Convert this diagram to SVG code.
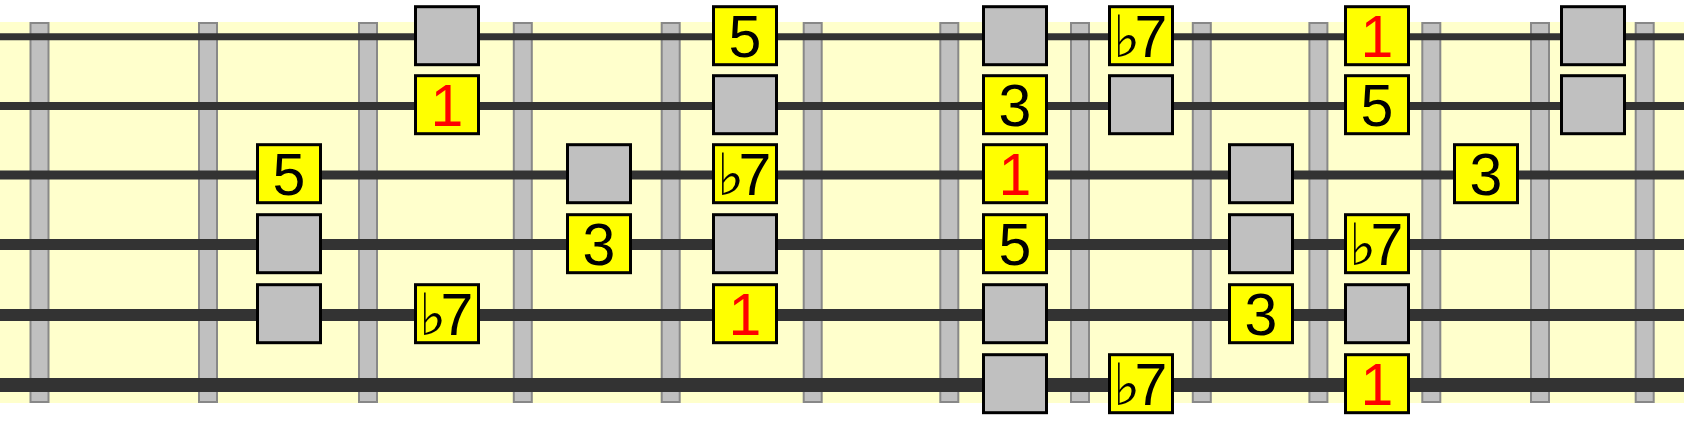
<svg xmlns="http://www.w3.org/2000/svg" width="1684" height="422" viewBox="0 0 1684 422">
<style>
.bg{fill:#ffffcc}
.fret{fill:#c0c0c0;stroke:#888888;stroke-width:2}
.str{stroke:#333333}
.g{fill:#c0c0c0;stroke:#000000;stroke-width:3}
.y{fill:#ffff00;stroke:#000000;stroke-width:3}
.t{font-family:"Liberation Sans",Arial,sans-serif;font-size:59px;fill:#000000;text-anchor:middle}
.s{text-anchor:start}
.r{fill:#ff0000}
.fl{font-family:"DejaVu Sans",sans-serif;font-size:58px}
</style>
<rect class="bg" x="0" y="22" width="1684" height="381"/>
<g id="frets">
<rect class="fret" x="30.5" y="23" width="18" height="379"/>
<rect class="fret" x="199" y="23" width="18" height="379"/>
<rect class="fret" x="359" y="23" width="18" height="379"/>
<rect class="fret" x="513.8" y="23" width="18" height="379"/>
<rect class="fret" x="661.7" y="23" width="18" height="379"/>
<rect class="fret" x="803.7" y="23" width="18" height="379"/>
<rect class="fret" x="940.3" y="23" width="18" height="379"/>
<rect class="fret" x="1071" y="23" width="18" height="379"/>
<rect class="fret" x="1192.8" y="23" width="18" height="379"/>
<rect class="fret" x="1309.4" y="23" width="18" height="379"/>
<rect class="fret" x="1422.3" y="23" width="18" height="379"/>
<rect class="fret" x="1531" y="23" width="18" height="379"/>
<rect class="fret" x="1635.7" y="23" width="18" height="379"/>
</g>
<g id="strings">
<line class="str" x1="0" y1="36.7" x2="1684" y2="36.7" stroke-width="7"/>
<line class="str" x1="0" y1="106" x2="1684" y2="106" stroke-width="8"/>
<line class="str" x1="0" y1="175" x2="1684" y2="175" stroke-width="9"/>
<line class="str" x1="0" y1="244.5" x2="1684" y2="244.5" stroke-width="11"/>
<line class="str" x1="0" y1="315" x2="1684" y2="315" stroke-width="12"/>
<line class="str" x1="0" y1="385" x2="1684" y2="385" stroke-width="14"/>
</g>
<!-- row 1 -->
<g id="n1B"><rect class="g" x="415.5" y="6.7" width="63" height="58"/></g>
<g id="n1D"><rect class="y" x="713.5" y="6.7" width="63" height="58"/><text class="t" x="745" y="56.7">5</text></g>
<g id="n1E"><rect class="g" x="983.5" y="6.7" width="63" height="58"/></g>
<g id="n1F"><rect class="y" x="1109.5" y="6.7" width="63" height="58"/><text class="t s" y="56.7"><tspan class="fl" x="1113">♭</tspan><tspan x="1134.5">7</tspan></text></g>
<g id="n1H"><rect class="y" x="1345.5" y="6.7" width="63" height="58"/><text class="t r" x="1377" y="56.7">1</text></g>
<g id="n1J"><rect class="g" x="1561.5" y="6.7" width="63" height="58"/></g>
<!-- row 2 -->
<g id="n2B"><rect class="y" x="415.5" y="75.7" width="63" height="58"/><text class="t r" x="447" y="125.7">1</text></g>
<g id="n2D"><rect class="g" x="713.5" y="75.7" width="63" height="58"/></g>
<g id="n2E"><rect class="y" x="983.5" y="75.7" width="63" height="58"/><text class="t" x="1015" y="125.7">3</text></g>
<g id="n2F"><rect class="g" x="1109.5" y="75.7" width="63" height="58"/></g>
<g id="n2H"><rect class="y" x="1345.5" y="75.7" width="63" height="58"/><text class="t" x="1377" y="125.7">5</text></g>
<g id="n2J"><rect class="g" x="1561.5" y="75.7" width="63" height="58"/></g>
<!-- row 3 -->
<g id="n3A"><rect class="y" x="257.5" y="144.7" width="63" height="58"/><text class="t" x="289" y="194.7">5</text></g>
<g id="n3C"><rect class="g" x="567.5" y="144.7" width="63" height="58"/></g>
<g id="n3D"><rect class="y" x="713.5" y="144.7" width="63" height="58"/><text class="t s" y="194.7"><tspan class="fl" x="717">♭</tspan><tspan x="738.5">7</tspan></text></g>
<g id="n3E"><rect class="y" x="983.5" y="144.7" width="63" height="58"/><text class="t r" x="1015" y="194.7">1</text></g>
<g id="n3G"><rect class="g" x="1229.5" y="144.7" width="63" height="58"/></g>
<g id="n3I"><rect class="y" x="1454.5" y="144.7" width="63" height="58"/><text class="t" x="1486" y="194.7">3</text></g>
<!-- row 4 -->
<g id="n4A"><rect class="g" x="257.5" y="214.7" width="63" height="58"/></g>
<g id="n4C"><rect class="y" x="567.5" y="214.7" width="63" height="58"/><text class="t" x="599" y="264.7">3</text></g>
<g id="n4D"><rect class="g" x="713.5" y="214.7" width="63" height="58"/></g>
<g id="n4E"><rect class="y" x="983.5" y="214.7" width="63" height="58"/><text class="t" x="1015" y="264.7">5</text></g>
<g id="n4G"><rect class="g" x="1229.5" y="214.7" width="63" height="58"/></g>
<g id="n4H"><rect class="y" x="1345.5" y="214.7" width="63" height="58"/><text class="t s" y="264.7"><tspan class="fl" x="1349">♭</tspan><tspan x="1370.5">7</tspan></text></g>
<!-- row 5 -->
<g id="n5A"><rect class="g" x="257.5" y="284.7" width="63" height="58"/></g>
<g id="n5B"><rect class="y" x="415.5" y="284.7" width="63" height="58"/><text class="t s" y="334.7"><tspan class="fl" x="419">♭</tspan><tspan x="440.5">7</tspan></text></g>
<g id="n5D"><rect class="y" x="713.5" y="284.7" width="63" height="58"/><text class="t r" x="745" y="334.7">1</text></g>
<g id="n5E"><rect class="g" x="983.5" y="284.7" width="63" height="58"/></g>
<g id="n5G"><rect class="y" x="1229.5" y="284.7" width="63" height="58"/><text class="t" x="1261" y="334.7">3</text></g>
<g id="n5H"><rect class="g" x="1345.5" y="284.7" width="63" height="58"/></g>
<!-- row 6 -->
<g id="n6E"><rect class="g" x="983.5" y="354.7" width="63" height="58"/></g>
<g id="n6F"><rect class="y" x="1109.5" y="354.7" width="63" height="58"/><text class="t s" y="404.7"><tspan class="fl" x="1113">♭</tspan><tspan x="1134.5">7</tspan></text></g>
<g id="n6H"><rect class="y" x="1345.5" y="354.7" width="63" height="58"/><text class="t r" x="1377" y="404.7">1</text></g>
</svg>
